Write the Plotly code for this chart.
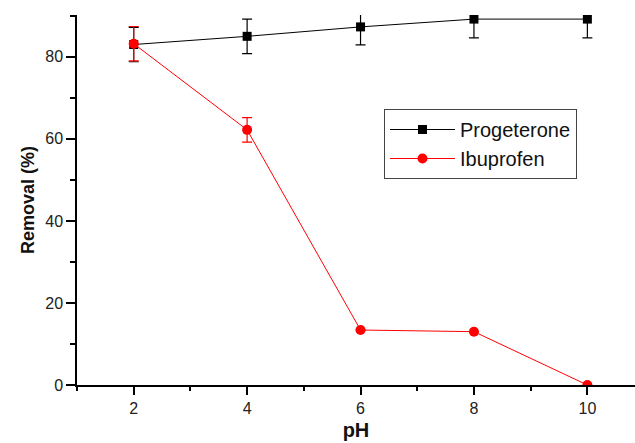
import plotly.graph_objects as go

ph = [2, 4, 6, 8, 10]
progesterone = [83, 85, 87.3, 89.2, 89.2]
progesterone_err = [4.2, 4.2, 4.4, 4.6, 4.6]
ibuprofen = [83.2, 62.2, 13.4, 13.0, 0]
ibuprofen_err = [4.2, 3.0, 0, 0, 0]

x_ticks = [2, 4, 6, 8, 10]
y_ticks = [0, 20, 40, 60, 80]

fig = go.Figure()
fig.add_trace(go.Scatter(
    x=ph, y=progesterone, name="Progeterone", mode="lines+markers",
    line=dict(color="black", width=1),
    marker=dict(symbol="square", size=9, color="black"),
    error_y=dict(type="data", array=progesterone_err, color="black",
                 thickness=1.2, width=5),
))
fig.add_trace(go.Scatter(
    x=ph, y=ibuprofen, name="Ibuprofen", mode="lines+markers",
    line=dict(color="#ff0000", width=1),
    marker=dict(symbol="circle", size=10, color="#ff0000"),
    error_y=dict(type="data", array=ibuprofen_err, color="#ff0000",
                 thickness=1.2, width=5),
))

axis_font = dict(family="Arial, Liberation Sans, sans-serif", size=16, color="#222")
fig.update_layout(
    width=635, height=443,
    margin=dict(l=77, r=0, t=15, b=58),
    paper_bgcolor="white", plot_bgcolor="white",
    font=dict(family="Arial, Liberation Sans, sans-serif"),
    legend=dict(
        x=(384 - 77) / 558, y=1 - (109 - 15) / 370, xanchor="left", yanchor="top",
        bordercolor="#444", borderwidth=1, bgcolor="white",
        font=dict(size=20, color="#111"), tracegroupgap=0,
        itemwidth=65,
    ),
    xaxis=dict(
        range=[1, 10.84], tickvals=x_ticks, ticks="outside", ticklen=8,
        tickwidth=1.5, tickcolor="black", showline=True, linecolor="black",
        linewidth=1.5, showgrid=False, zeroline=False, tickfont=axis_font,
        minor=dict(dtick=1, tick0=1, ticks="outside", ticklen=4,
                   tickcolor="black", tickwidth=1.5, showgrid=False),
        title=dict(text="<b>pH</b>", font=dict(size=20, color="#111"), standoff=7),
    ),
    yaxis=dict(
        range=[0, 90.2], tickvals=y_ticks, ticks="outside", ticklen=9,
        tickwidth=1.5, tickcolor="black", showline=True, linecolor="black",
        linewidth=1.5, showgrid=False, zeroline=False, tickfont=axis_font,
        minor=dict(dtick=10, tick0=10, ticks="outside", ticklen=5,
                   tickcolor="black", tickwidth=1.5, showgrid=False),
        title=dict(text="<b>Removal (%)</b>", font=dict(size=18, color="#111"), standoff=6),
    ),
)

fig.write_html("out.html")
